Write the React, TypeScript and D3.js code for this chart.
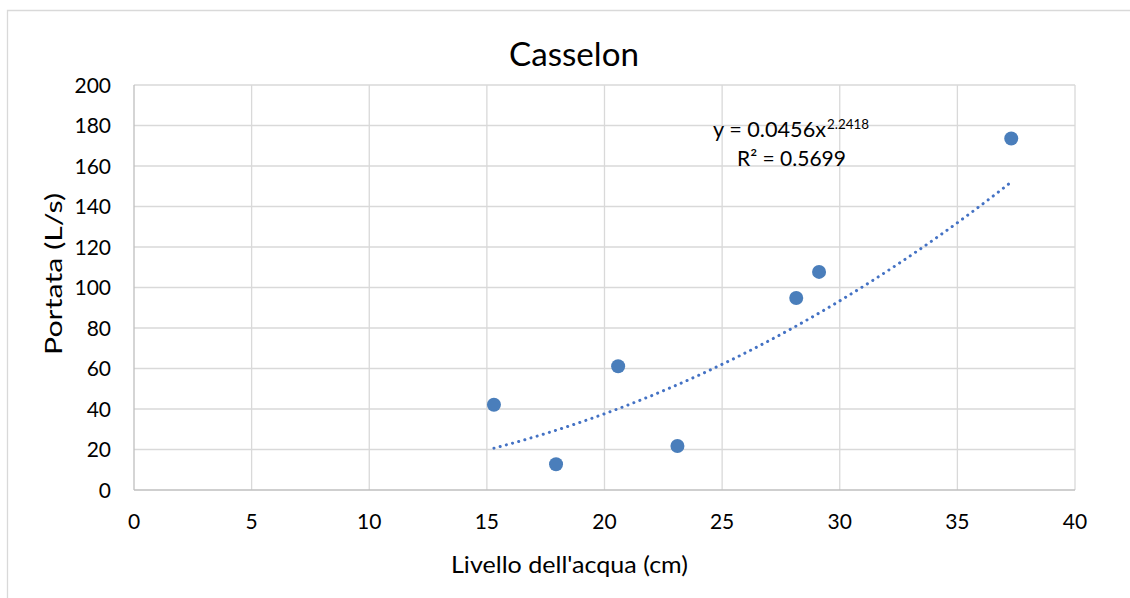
import React from "react";
import * as d3 from "d3";

// Water level (cm) and discharge (L/s) measurements at Casselon
const livello = [15.3, 17.94, 20.58, 23.1, 28.15, 29.12, 37.29];
const portata = [42.1, 12.7, 61.1, 21.7, 94.8, 107.7, 173.6];

const xTicks = [0, 5, 10, 15, 20, 25, 30, 35, 40];
const yTicks = [0, 20, 40, 60, 80, 100, 120, 140, 160, 180, 200];

// Power trendline coefficients, as reported in the equation label
const coefA = 0.0456;
const coefB = 2.2418;
const r2 = 0.5699;

const W = 1130;
const H = 598;
const font = "Lato, 'Open Sans', sans-serif";

export default function App() {
  const x = d3.scaleLinear().domain([0, 40]).range([134, 1075]);
  const y = d3.scaleLinear().domain([0, 200]).range([490, 85]);

  const xmin = d3.min(livello) as number;
  const xmax = d3.max(livello) as number;
  const trend = d3.range(0, 101).map((i) => {
    const xv = xmin + ((xmax - xmin) * i) / 100;
    return [xv, coefA * Math.pow(xv, coefB)] as [number, number];
  });
  const line = d3
    .line<[number, number]>()
    .x((d) => x(d[0]))
    .y((d) => y(d[1]));

  const grid = "#d9d9d9";
  const axisCol = "#bfbfbf";

  return (
    <svg
      width={W}
      height={H}
      style={{ position: "absolute", left: 0, top: 0, background: "#fff" }}
      fontFamily={font}
    >
      {/* chart frame */}
      <path d={`M7.5,${H} V10.5 H${W}`} fill="none" stroke={grid} strokeWidth={1.3} />

      <text x={574} y={66} textAnchor="middle" fontSize={32} fill="#000" textLength={130} lengthAdjust="spacingAndGlyphs">
        Casselon
      </text>

      {/* gridlines */}
      {yTicks.slice(1).map((t) => (
        <line key={"gy" + t} x1={x(0)} x2={x(40)} y1={y(t)} y2={y(t)} stroke={grid} strokeWidth={1.3} />
      ))}
      {xTicks.slice(1).map((t) => (
        <line key={"gx" + t} x1={x(t)} x2={x(t)} y1={y(0)} y2={y(200)} stroke={grid} strokeWidth={1.3} />
      ))}
      {/* axes */}
      <line x1={x(0)} x2={x(0)} y1={y(0)} y2={y(200)} stroke={axisCol} strokeWidth={1.3} />
      <line x1={x(0)} x2={x(40)} y1={y(0)} y2={y(0)} stroke={axisCol} strokeWidth={1.3} />

      {/* tick labels */}
      {yTicks.map((t) => (
        <text key={"ly" + t} x={111} y={y(t)} dy="0.36em" textAnchor="end" fontSize={21} fill="#000">
          {t}
        </text>
      ))}
      {xTicks.map((t) => (
        <text key={"lx" + t} x={x(t)} y={529} textAnchor="middle" fontSize={21} fill="#000">
          {t}
        </text>
      ))}

      {/* axis titles */}
      <text x={569.5} y={573} textAnchor="middle" fontSize={23} fill="#000" textLength={237} lengthAdjust="spacingAndGlyphs">
        Livello dell'acqua (cm)
      </text>
      <text
        transform={`translate(62,274) rotate(-90)`}
        textAnchor="middle"
        fontSize={23}
        fill="#000"
        textLength={162}
        lengthAdjust="spacingAndGlyphs"
      >
        Portata (L/s)
      </text>

      {/* trendline */}
      <path
        d={line(trend) || ""}
        fill="none"
        stroke="#4472c4"
        strokeWidth={3}
        strokeLinecap="round"
        strokeDasharray="0.1 6.3"
      />

      {/* measured points */}
      {livello.map((lv, i) => (
        <circle key={"p" + i} cx={x(lv)} cy={y(portata[i])} r={7} fill="#4a7ebb" />
      ))}

      {/* equation label */}
      <text x={713} y={137} fontSize={21} fill="#000" textLength={113} lengthAdjust="spacingAndGlyphs">
        y = {coefA}x
      </text>
      <text x={827} y={129} fontSize={13.5} fill="#000" textLength={42} lengthAdjust="spacingAndGlyphs">
        {coefB}
      </text>
      <text x={737} y={166} fontSize={21} fill="#000" textLength={109} lengthAdjust="spacingAndGlyphs">
        R² = {r2}
      </text>
    </svg>
  );
}
